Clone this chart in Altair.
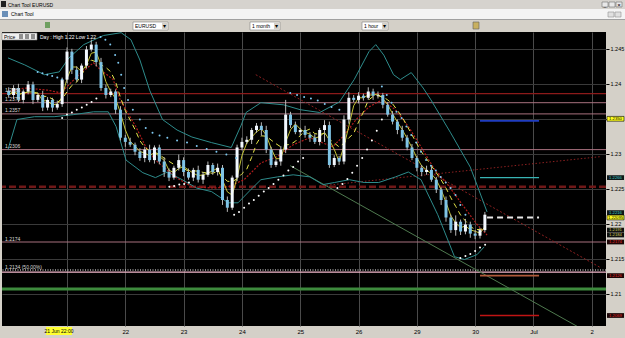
import altair as alt
import pandas as pd

# ---------------- data ----------------
# 2-hour candles, first at hour -24 (hour 0 = 21 Jun 22:00)
start_hour = -24
bar_hours = 2
first_open = 1.2390
closes = [1.2384, 1.2394, 1.2377, 1.2389, 1.2399, 1.2377, 1.2384, 1.2366, 1.2377, 1.2366,
          1.2371, 1.2406, 1.2446, 1.2420, 1.2406, 1.2426, 1.2449, 1.2456, 1.2431, 1.2394,
          1.2384, 1.2389, 1.2363, 1.2323, 1.2317, 1.2313, 1.2303, 1.2294, 1.2306, 1.2291,
          1.2309, 1.2289, 1.2274, 1.2266, 1.2280, 1.2291, 1.2274, 1.2266, 1.2277, 1.2263,
          1.2270, 1.2284, 1.2274, 1.2280, 1.2234, 1.2223, 1.2266, 1.2309, 1.2317, 1.2320,
          1.2334, 1.2340, 1.2334, 1.2306, 1.2284, 1.2289, 1.2306, 1.2356, 1.2341, 1.2331,
          1.2334, 1.2327, 1.2323, 1.2317, 1.2334, 1.2341, 1.2284, 1.2294, 1.2289, 1.2349,
          1.2380, 1.2377, 1.2383, 1.2380, 1.2389, 1.2383, 1.2384, 1.2370, 1.2356, 1.2346,
          1.2334, 1.2323, 1.2309, 1.2294, 1.2280, 1.2274, 1.2277, 1.2263, 1.2249, 1.2234,
          1.2209, 1.2191, 1.2203, 1.2189, 1.2199, 1.2186, 1.2183, 1.2191, 1.2213]
wick_up_pips = [5, 4, 6, 3, 5, 4, 3, 6, 4, 3, 5, 3, 6, 4, 5, 3, 5, 7, 4, 6,
                5, 4, 3, 5, 4, 6, 3, 5, 4, 7, 3, 4, 6, 5, 3, 8, 4, 5, 3, 6,
                4, 5, 3, 6, 4, 5, 3, 4, 6, 5, 3, 4, 5, 6, 4, 3, 5, 21, 4, 5,
                3, 6, 4, 5, 3, 7, 5, 4, 3, 6, 8, 4, 5, 3, 6, 4, 5, 3, 4, 5,
                3, 6, 4, 5, 3, 4, 6, 5, 4, 3, 5, 4, 9, 3, 8, 4, 5, 3, 4]
wick_dn_pips = [4, 6, 3, 5, 4, 6, 3, 5, 4, 6, 3, 4, 5, 6, 3, 5, 4, 3, 6, 4,
                5, 3, 6, 4, 7, 3, 5, 4, 6, 3, 5, 4, 7, 5, 3, 4, 6, 3, 5, 4,
                6, 3, 4, 5, 7, 6, 3, 5, 4, 3, 6, 4, 8, 5, 4, 3, 6, 5, 4, 3,
                5, 4, 6, 3, 5, 17, 4, 3, 5, 4, 6, 3, 5, 4, 3, 6, 4, 5, 3, 4,
                6, 5, 4, 3, 5, 6, 4, 3, 5, 7, 6, 4, 8, 5, 4, 6, 5, 4, 3]

# Bollinger bands and slow MA (hour, price)
bb_upper_h = [-24.3, -17.4, -9.3, -3.2, 0.8, 6.9, 15.0, 22.3, 26.3, 30.0, 34.0, 39.3, 45.3, 51.4,
              59.5, 67.6, 71.7, 73.7, 79.8, 89.1, 96.0, 104.0, 112.1, 118.2, 124.3, 127.1, 130.4,
              134.4, 137.2, 141.7, 146.6, 149.8, 157.9, 166.0, 170.0, 172.9]
bb_upper_p = [1.2437, 1.2427, 1.2413, 1.2417, 1.2437, 1.2456, 1.2469, 1.2473, 1.2463, 1.2434,
              1.2391, 1.2349, 1.2334, 1.2324, 1.2316, 1.2309, 1.2341, 1.2359, 1.2373, 1.2370,
              1.2363, 1.2359, 1.2374, 1.2406, 1.2446, 1.2456, 1.2441, 1.2413, 1.2406, 1.2416,
              1.2394, 1.2377, 1.2330, 1.2281, 1.2244, 1.2217]
bb_lower_h = [-24.3, -20.6, -13.4, -5.3, 2.8, 10.9, 17.0, 20.2, 24.3, 31.2, 36.4, 41.3, 47.4, 53.4,
              59.5, 66.4, 70.4, 75.7, 79.8, 86.6, 93.1, 100.0, 105.3, 110.1, 116.2, 122.3, 128.3,
              135.2, 140.5, 145.7, 152.6, 159.5, 163.6, 168.8, 171.7]
bb_lower_p = [1.2306, 1.2349, 1.2353, 1.2353, 1.2356, 1.2360, 1.2360, 1.2339, 1.2291, 1.2273,
              1.2266, 1.2274, 1.2263, 1.2251, 1.2246, 1.2230, 1.2230, 1.2249, 1.2263, 1.2267,
              1.2270, 1.2267, 1.2256, 1.2259, 1.2263, 1.2259, 1.2259, 1.2267, 1.2274, 1.2263,
              1.2213, 1.2153, 1.2149, 1.2156, 1.2167]
slow_ma_h = [-24.3, -17.4, -8.1, -2.4, 0.0, 4.9, 10.9, 13.8, 19.0, 21.9, 28.3, 32.4, 36.4, 44.5,
             51.4, 60.7, 66.4, 72.9, 79.8, 86.6, 93.1, 100.0, 109.3, 113.4, 119.0, 124.3, 129.6,
             135.2, 140.5, 145.7, 151.4, 156.7, 162.8, 168.8, 172.9]
slow_ma_p = [1.2389, 1.2394, 1.2391, 1.2387, 1.2396, 1.2413, 1.2430, 1.2420, 1.2406, 1.2377,
             1.2339, 1.2310, 1.2291, 1.2267, 1.2253, 1.2251, 1.2253, 1.2263, 1.2287, 1.2296,
             1.2313, 1.2323, 1.2310, 1.2324, 1.2349, 1.2367, 1.2377, 1.2363, 1.2339, 1.2310,
             1.2277, 1.2256, 1.2227, 1.2199, 1.2184]

# Parabolic SAR dots
sar_above_h = [-12.1, -10.1, -8.1, -6.1, -4.0, -2.0,
               13.8, 15.8, 17.8, 19.8, 21.1, 22.3, 23.5, 25.1, 27.1, 30.0, 32.4, 35.2, 38.1, 41.3,
               45.3, 49.4, 53.4, 57.5, 61.5, 65.6, 69.6,
               91.9, 94.7, 97.6, 100.4, 103.2, 106.1, 108.9, 112.1,
               129.6, 131.6, 133.6, 135.6, 137.7, 139.7, 141.7, 143.7, 145.7, 147.8, 149.8, 151.8,
               153.8, 155.9, 157.9, 159.9, 161.9, 164.0]
sar_above_p = [1.2417, 1.2415, 1.2413, 1.2411, 1.2409, 1.2406,
               1.2467, 1.2463, 1.2456, 1.2441, 1.2430, 1.2413, 1.2394, 1.2377, 1.2363, 1.2349,
               1.2337, 1.2330, 1.2326, 1.2323, 1.2319, 1.2316, 1.2311, 1.2307, 1.2303, 1.2299, 1.2294,
               1.2387, 1.2384, 1.2381, 1.2379, 1.2376, 1.2371, 1.2367, 1.2363,
               1.2396, 1.2384, 1.2373, 1.2360, 1.2351, 1.2339, 1.2327, 1.2316, 1.2303, 1.2291,
               1.2283, 1.2276, 1.2267, 1.2259, 1.2251, 1.2241, 1.2227, 1.2213]
sar_below_h = [-2.0, 0.0, 2.0, 4.0, 6.1, 8.1, 10.1, 12.1,
               42.1, 44.1, 46.2, 48.2, 50.2,
               68.8, 70.8, 72.9, 74.9, 76.9, 78.9, 81.0, 83.0, 85.0, 87.0, 89.1, 91.1, 93.1, 95.1, 97.2,
               111.3, 113.4, 115.4, 117.4, 119.4, 121.5, 123.5, 125.5, 127.5, 129.6,
               161.9, 164.0, 166.0, 168.0, 170.0, 172.1]
sar_below_p = [1.2351, 1.2356, 1.2359, 1.2363, 1.2366, 1.2370, 1.2374, 1.2379,
               1.2253, 1.2254, 1.2256, 1.2257, 1.2259,
               1.2213, 1.2217, 1.2223, 1.2229, 1.2234, 1.2240, 1.2246, 1.2251, 1.2257, 1.2263,
               1.2269, 1.2276, 1.2281, 1.2289, 1.2294,
               1.2251, 1.2257, 1.2264, 1.2273, 1.2283, 1.2294, 1.2306, 1.2319, 1.2333, 1.2349,
               1.2151, 1.2154, 1.2157, 1.2161, 1.2166, 1.2170]

# horizontal levels
level_red = [1.2386]
level_mauve = [1.2373, 1.2357, 1.2306, 1.2174]
level_dashed = [1.2253]
level_fib_dotted = [1.2134]
level_fib = [1.2131]
level_green = [1.2107]
level_labels_p = [1.2386, 1.2373, 1.2357, 1.2306, 1.2174, 1.2134]
level_labels_t = ["1.2386", "1.2373", "1.2357", "1.2306", "1.2174", "1.2134 (50.00%)"]

# short target segments (hour start, hour end)
seg_blue = [1.2347]
seg_teal = [1.2266]
seg_white = [1.2209]
seg_brown = [1.2126]
seg_red = [1.2069]
seg_h = [170.0, 194.3]
seg_white_h = [172.9, 194.3]

# trend lines (two points each)
trend_red_h, trend_red_p = [77.7, 219.8], [1.2413, 1.2137]
trend_sup_h, trend_sup_p = [104.0, 219.8], [1.2254, 1.2296]
trend_green_h, trend_green_p = [91.9, 215.4], [1.2283, 1.2043]

# axis
y_ticks = [1.21, 1.215, 1.22, 1.225, 1.23, 1.235, 1.24, 1.245]
y_hidden = [1.235]          # covered by the current-price marker
x_ticks = [0, 24, 48, 72, 96, 120, 144, 168, 192, 216]
x_tick_labels = ["", "22", "23", "24", "25", "26", "29", "30", "Jul", "2"]
first_label = "21 Jun 22:00"

# price markers on the right scale
mk_yellow_p, mk_yellow_t = [1.2350, 1.2209], ["1.2350", "1.22095"]
mk_teal_p, mk_teal_t = [1.2266, 1.2216], ["1.2266", "1.2216"]
mk_olive_p, mk_olive_t = [1.2191, 1.2184], ["1.2191", "1.2184"]
mk_red_p, mk_red_t = [1.2174, 1.2126, 1.2069], ["1.2174", "1.2126", "1.2069"]

# ---------------- build tables ----------------
hours = [start_hour + bar_hours * i for i in range(len(closes))]
opens = [first_open] + closes[:-1]
highs = [max(o, c) + u * 0.0001 for o, c, u in zip(opens, closes, wick_up_pips)]
lows = [min(o, c) - d * 0.0001 for o, c, d in zip(opens, closes, wick_dn_pips)]
candles = pd.DataFrame({"h": hours, "open": opens, "close": closes, "high": highs, "low": lows})
candles["up"] = candles["close"] >= candles["open"]

XD = [-24.7, 219.8]
YD = [1.2054, 1.2474]
FONT = "Liberation Sans"

x_axis = alt.Axis(values=x_ticks, labelExpr="%s[indexof(%s, datum.value)]" % (x_tick_labels, x_ticks),
                  orient="bottom", grid=True, gridColor="#4a4a4a", gridWidth=1, domain=False,
                  ticks=False, labelFontSize=6, labelFont=FONT, labelColor="#000000",
                  labelPadding=2, title=None)
y_axis = alt.Axis(values=y_ticks,
                  labelExpr="indexof(%s, datum.value) >= 0 ? '' : format(datum.value, '.3~f')" % y_hidden,
                  orient="right", grid=True, gridColor="#3a3a3a",
                  gridWidth=1, domain=False, ticks=True, tickSize=3, tickColor="#000000",
                  labelFontSize=5.5, labelFont=FONT, labelColor="#000000", labelPadding=1, title=None)


def X(field="h"):
    return alt.X(f"{field}:Q", scale=alt.Scale(domain=XD, nice=False, zero=False), axis=x_axis)


def Y(field="p"):
    return alt.Y(f"{field}:Q", scale=alt.Scale(domain=YD, nice=False, zero=False), axis=y_axis)


def hlines(vals, color, width=1, dash=None):
    kw = dict(color=color, strokeWidth=width)
    if dash:
        kw["strokeDash"] = dash
    return alt.Chart(pd.DataFrame({"p": vals})).mark_rule(**kw).encode(y=Y())


def seg(vals, hh, color, width=1.2, dash=None):
    kw = dict(color=color, strokeWidth=width)
    if dash:
        kw["strokeDash"] = dash
    df = pd.DataFrame({"p": vals, "h": [hh[0]] * len(vals), "h2": [hh[1]] * len(vals)})
    return alt.Chart(df).mark_rule(**kw).encode(x=X(), x2="h2:Q", y=Y())


def line(hs, ps, color, width=1, dash=None):
    kw = dict(color=color, strokeWidth=width, clip=True)
    if dash:
        kw["strokeDash"] = dash
    return alt.Chart(pd.DataFrame({"h": hs, "p": ps})).mark_line(**kw).encode(x=X(), y=Y())


def dots(hs, ps, color):
    return alt.Chart(pd.DataFrame({"h": hs, "p": ps})).mark_circle(
        color=color, size=4, opacity=1).encode(x=X(), y=Y())


dummy = pd.DataFrame({"d": [0]})


def box(x1, y1, x2, y2, fill, stroke=None):
    kw = dict(fill=fill, clip=False)
    if stroke:
        kw["stroke"] = stroke
        kw["strokeWidth"] = 0.6
    return alt.Chart(dummy).mark_rect(**kw).encode(
        x=alt.value(x1 - 2), x2=alt.value(x2 - 2), y=alt.value(y1 - 32), y2=alt.value(y2 - 32))


def txt(x, y, s, size=5.5, color="#000000", align="left", weight="normal"):
    return alt.Chart(dummy).mark_text(text=s, fontSize=size, color=color, align=align,
                                      baseline="middle", font=FONT, fontWeight=weight,
                                      clip=False).encode(x=alt.value(x - 2), y=alt.value(y - 32))


def markers(ps, ts, fill, tcolor, stroke=None):
    df = pd.DataFrame({"p": ps, "t": ts})
    kw = dict(fill=fill, clip=False)
    if stroke:
        kw["stroke"] = stroke
        kw["strokeWidth"] = 0.6
    base = alt.Chart(df).transform_calculate(lo="datum.p - 0.00034", hi="datum.p + 0.00034")
    r = base.mark_rect(**kw).encode(x=alt.value(605), x2=alt.value(622), y=Y("lo"), y2="hi:Q")
    t = base.mark_text(fontSize=4.2, color=tcolor, align="center", baseline="middle", font=FONT,
                       clip=False).encode(x=alt.value(613.5), y=Y(), text="t:N")
    return [r, t]


layers = []
# levels
layers += [hlines(level_red, "#8c1a1a", 1.2), hlines(level_mauve, "#a8707e", 1),
           hlines(level_dashed, "#701818", 2.6, [7, 3]),
           hlines(level_fib, "#f2b8cc", 1.4), hlines(level_fib_dotted, "#ffffff", 1, [1, 1.5]),
           hlines(level_green, "#3d8a3d", 3)]
# trend lines
layers += [line(trend_red_h, trend_red_p, "#8c2020", 1, [2, 2]),
           line(trend_sup_h, trend_sup_p, "#8c2020", 1, [1.5, 2]),
           line(trend_green_h, trend_green_p, "#4f7a4f", 1)]
# bands and averages
layers += [line(bb_upper_h, bb_upper_p, "#2e8c8c", 1), line(bb_lower_h, bb_lower_p, "#2e8c8c", 1),
           line(slow_ma_h, slow_ma_p, "#b01c1c", 1.2, [2, 1.5])]
layers.append(alt.Chart(candles).transform_window(
    med="mean(close)", frame=[-5, 0], sort=[alt.SortField("h")]).mark_line(
    color="#e6e64a", strokeWidth=1, strokeDash=[5, 4]).encode(x=X(), y=Y("med")))
layers.append(alt.Chart(candles).transform_window(
    fast="mean(close)", frame=[-2, 0], sort=[alt.SortField("h")]).mark_line(
    color="#d8d83a", strokeWidth=0.9).encode(x=X(), y=Y("fast")))
# candles
layers.append(alt.Chart(candles).mark_rule(color="#b8b8b8", strokeWidth=1).encode(
    x=X(), y=Y("low"), y2="high:Q"))
layers.append(alt.Chart(candles).mark_bar(size=3).encode(
    x=X(), y=Y("open"), y2="close:Q",
    color=alt.Color("up:N", scale=alt.Scale(domain=[True, False], range=["#f2f8ff", "#7fc4e6"]),
                    legend=None)))
# SAR
layers += [dots(sar_above_h, sar_above_p, "#7ec8f0"), dots(sar_below_h, sar_below_p, "#ffffff")]
# target segments
layers += [seg(seg_blue, seg_h, "#1f3cc0", 1.6), seg(seg_teal, seg_h, "#38b4b4", 1.2),
           seg(seg_white, seg_white_h, "#e8e8e8", 2.2, [6, 4]),
           seg(seg_brown, seg_h, "#b05a3a", 1.6), seg(seg_red, seg_h, "#c01414", 1.4)]
# level labels
layers.append(alt.Chart(pd.DataFrame({"p": level_labels_p, "t": level_labels_t})).mark_text(
    fontSize=5, color="#d8d8d8", align="left", baseline="bottom", dy=-0.5, font=FONT).encode(
    x=alt.value(3), y=Y(), text="t:N"))
# right scale markers
layers += markers(mk_teal_p, mk_teal_t, "#101818", "#40c8c8")
layers += markers(mk_olive_p, mk_olive_t, "#101010", "#d0d060")
layers += markers(mk_red_p, mk_red_t, "#1c0606", "#e03030")
layers += markers(mk_yellow_p, mk_yellow_t, "#ffff20", "#000000", "#000000")

# window chrome
layers += [
    box(0, 0, 625, 9, "#d6d3ce"), box(0, 9, 625, 19, "#f4f4f4"), box(0, 19, 625, 32, "#d4d0c8"),
    box(0, 19, 625, 20, "#a0a0a0"),
    box(1, 1, 6, 7, "#202020"), txt(8, 4.5, "Chart Tool EURUSD", 5),
    box(602, 2, 608, 7, "#e8e8e8", "#707070"), box(609, 2, 615, 7, "#e8e8e8", "#707070"),
    box(616, 2, 622, 7, "#e8e8e8", "#707070"),
    txt(605, 4.5, "_", 5, align="center"), txt(619, 4.5, "×", 6, align="center"),
    box(2, 11, 8, 17, "#6a8fb8"), txt(11, 14, "Chart Tool", 5),
    box(608, 12, 614, 17, "#e0e0e0", "#909090"), box(615, 12, 621, 17, "#e0e0e0", "#909090"),
    box(45, 22, 50, 28, "#6f9f60"),
    box(133, 22, 168, 30, "#ffffff", "#808080"), box(162, 22.5, 167.5, 29.5, "#d4d0c8"),
    txt(135, 26, "EURUSD", 5), txt(164.7, 26, "▾", 6, align="center"),
    box(250, 22, 280, 30, "#ffffff", "#808080"), box(274, 22.5, 279.5, 29.5, "#d4d0c8"),
    txt(252, 26, "1 month", 5), txt(276.7, 26, "▾", 6, align="center"),
    box(362, 22, 388, 30, "#ffffff", "#808080"), box(382, 22.5, 387.5, 29.5, "#d4d0c8"),
    txt(364, 26, "1 hour", 5), txt(384.7, 26, "▾", 6, align="center"),
    box(473, 22, 479, 29, "#c8b060", "#606060"),
    # price caption box
    box(2, 33, 37, 40, "#f0f0f0", "#808080"), txt(4, 36.5, "Price", 5),
    box(19, 34, 23, 39, "#909090"), box(25, 34, 29, 39, "#909090"), box(31, 34, 35, 39, "#909090"),
    txt(40, 36.5, "Day : High 1.22 Low 1.22", 5, color="#ffffff"),
    # highlighted first date label
    box(46, 327, 72, 335, "#ffff30"), txt(59, 331, first_label, 5, align="center"),
]

chart = alt.layer(*layers).properties(
    width=604, height=294,
    padding={"left": 2, "top": 32, "right": 19, "bottom": 12},
    autosize="none", background="#d4d0c8",
).configure_view(fill="#000000", stroke=None)

chart.save("out.html", embed_options={"renderer": "svg", "actions": False})
